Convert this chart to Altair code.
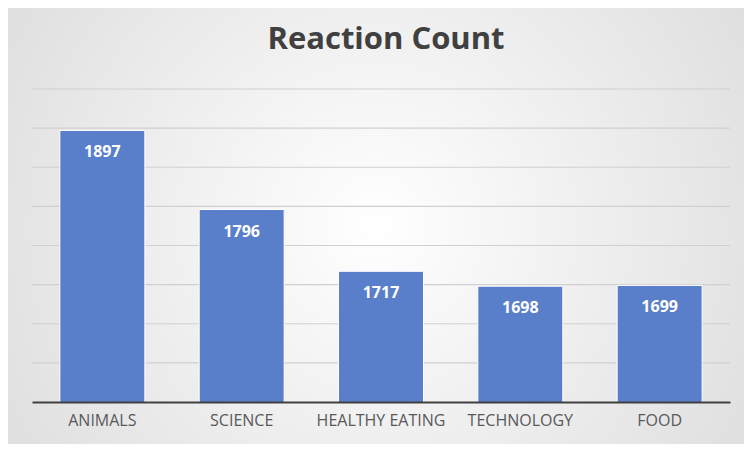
import altair as alt
import pandas as pd

categories = ["ANIMALS", "SCIENCE", "HEALTHY EATING", "TECHNOLOGY", "FOOD"]
counts = [1897, 1796, 1717, 1698, 1699]
grid_values = [1600, 1650, 1700, 1750, 1800, 1850, 1900, 1950]

df = pd.DataFrame({"topic": categories, "count": counts})
grid_df = pd.DataFrame({"g": grid_values})

W, H = 698, 313
yscale = alt.Scale(domain=[1550, 1950], nice=False, zero=False)

bg = alt.Chart(alt.Data(values=[{"a": 1}])).mark_rect(
    color=alt.Gradient(
        gradient="radial",
        stops=[
            alt.GradientStop(offset=0, color="#ffffff"),
            alt.GradientStop(offset=1, color="#d6d6d6"),
        ],
        x1=0.5, y1=0.5, x2=0.5, y2=0.5, r1=0, r2=0.75,
    )
).encode(
    x=alt.value(-24), x2=alt.value(W + 14), y=alt.value(-81), y2=alt.value(H + 42)
)

title = alt.Chart(alt.Data(values=[{"t": "Reaction Count"}])).mark_text(
    fontSize=31, fontWeight="bold", color="#404040", font="Open Sans", baseline="middle"
).encode(text="t:N", x=alt.value(W / 2 + 5), y=alt.value(-49))

grid = alt.Chart(grid_df).mark_rule(color="#d0d0d0", strokeWidth=1.2).encode(
    y=alt.Y("g:Q", scale=yscale, axis=None)
)

base = alt.Chart(df).encode(
    x=alt.X("topic:N", sort=categories, title=None,
            scale=alt.Scale(paddingInner=0.39, paddingOuter=0.2),
            axis=alt.Axis(labelAngle=0, labelFontSize=16, labelColor="#595959",
                          labelFont="Open Sans", labelPadding=10, ticks=False,
                          domainColor="#404040", domainWidth=2, zindex=1)),
    y=alt.Y("count:Q", title=None, scale=yscale, axis=None),
)

bars = base.mark_bar(color="#5a7fca", stroke="white", strokeWidth=1, clip=True)
labels = base.mark_text(baseline="top", dy=14, color="white", fontSize=16,
                        fontWeight="bold", font="Open Sans").encode(text="count:Q")

chart = alt.layer(bg, title, grid, bars, labels).properties(
    width=W, height=H,
    autosize=alt.AutoSizeParams(type="none"),
    padding={"left": 24, "top": 81, "right": 14, "bottom": 42},
).configure_view(stroke=None).configure(background="#e8e8e8")

chart.save("out.html", embed_options={"renderer": "svg", "actions": False})
